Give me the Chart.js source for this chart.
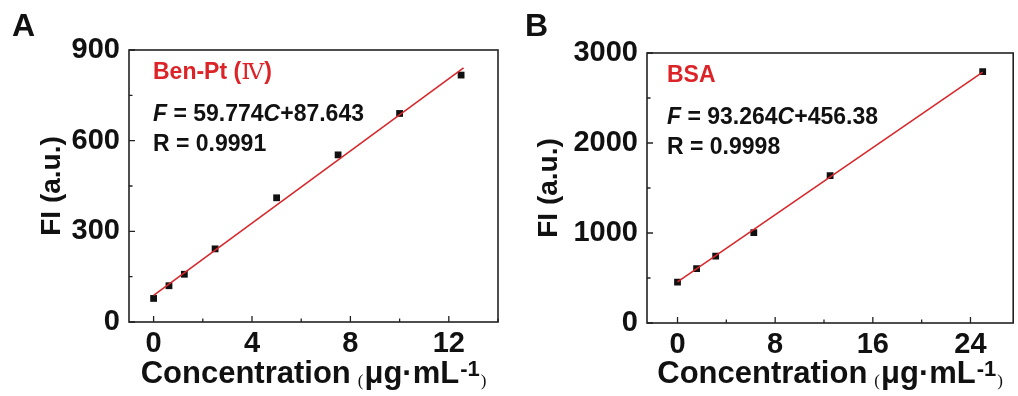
<!DOCTYPE html>
<html>
<head>
<meta charset="utf-8">
<script src="https://cdn.jsdelivr.net/npm/chart.js@4.4.0/dist/chart.umd.min.js"></script>
<style>
  body { margin: 0; background: #fff; }
  .panel { position: absolute; top: 0; width: 509px; height: 396px; }
</style>
</head>
<body>
<div class="panel" style="left:0"><canvas id="chartA" width="509" height="396"></canvas></div>
<div class="panel" style="left:509px"><canvas id="chartB" width="509" height="396"></canvas></div>
<script>
// panel A - Ben-Pt(IV)
const concA = [0, 0.625, 1.25, 2.5, 5, 7.5, 10, 12.5];
const fiA = [78, 120, 158, 242, 411, 553, 690, 817];
const fitXA = [0, 12.6];
const fitYA = [88, 841];
const xTicksA = [0, 4, 8, 12];
const yTicksA = [0, 300, 600, 900];

// panel B - BSA
const concB = [0, 1.5625, 3.125, 6.25, 12.5, 25];
const fiB = [455, 603, 744, 1003, 1637, 2792];
const fitXB = [0, 25];
const fitYB = [456, 2788];
const xTicksB = [0, 8, 16, 24];
const yTicksB = [0, 1000, 2000, 3000];

const SANS = '"Liberation Sans", Arial, sans-serif';
const SERIF = '"Liberation Serif", "DejaVu Serif", serif';
const RED = '#dc2327';
const LINE_RED = '#d8282c';

function toPoints(xs, ys) {
  return xs.map((x, i) => ({ x: x, y: ys[i] }));
}

// draw a row of text pieces with different fonts
function drawRuns(ctx, runs, x, y, center) {
  let total = 0;
  runs.forEach(r => { ctx.font = r.f; total += ctx.measureText(r.t).width + (r.gap || 0); });
  let cx = center ? x - total / 2 : x;
  runs.forEach(r => {
    ctx.font = r.f;
    ctx.fillStyle = r.c || '#111';
    ctx.fillText(r.t, cx, y + (r.dy || 0));
    cx += ctx.measureText(r.t).width + (r.gap || 0);
  });
}

function minorValues(major, min, max) {
  const step = major[1] - major[0];
  const out = [];
  for (let v = major[0] - step / 2; v <= max; v += step) {
    if (v >= min) out.push(v);
  }
  return out;
}

const framePlugin = {
  id: 'frame',
  beforeDatasetsDraw(chart) {
    const { ctx, chartArea: a, scales: { x, y } } = chart;
    ctx.save();
    ctx.strokeStyle = '#222';
    ctx.lineWidth = 1.6;
    ctx.strokeRect(a.left, a.top, a.right - a.left, a.bottom - a.top);
    ctx.lineWidth = 1.3;
    ctx.beginPath();
    const xt = chart.options.plugins.frame.xTicks;
    const yt = chart.options.plugins.frame.yTicks;
    xt.forEach(v => { const p = x.getPixelForValue(v); ctx.moveTo(p, a.bottom); ctx.lineTo(p, a.bottom - 6); });
    minorValues(xt, x.min, x.max).forEach(v => { const p = x.getPixelForValue(v); ctx.moveTo(p, a.bottom); ctx.lineTo(p, a.bottom - 3.5); });
    yt.forEach(v => { const p = y.getPixelForValue(v); ctx.moveTo(a.left, p); ctx.lineTo(a.left + 6, p); });
    minorValues(yt, y.min, y.max).forEach(v => { const p = y.getPixelForValue(v); ctx.moveTo(a.left, p); ctx.lineTo(a.left + 3.5, p); });
    ctx.stroke();
    ctx.restore();
  },
  afterDraw(chart) {
    const { ctx, chartArea: a } = chart;
    const o = chart.options.plugins.frame;
    ctx.save();
    ctx.textBaseline = 'alphabetic';
    // panel letter
    ctx.font = 'bold 32px ' + SANS;
    ctx.fillStyle = '#111';
    ctx.fillText(o.letter, o.letterX, 36);
    // x axis title
    const big = 'bold 31px ' + SANS;
    drawRuns(ctx, [
      { t: 'Concentration', f: big, gap: 7 },
      { t: '(', f: '17px ' + SERIF, dy: 3, gap: 1 },
      { t: 'μg·mL', f: big, gap: 1 },
      { t: '-1', f: 'bold 22px ' + SANS, dy: -7, gap: 1 },
      { t: ')', f: '17px ' + SERIF, dy: 3 }
    ], (a.left + a.right) / 2, 383, true);
    // annotations
    ctx.textBaseline = 'middle';
    const f23 = 'bold 23px ' + SANS;
    const i23 = 'italic bold 23px ' + SANS;
    const tx = a.left + o.textDx;
    drawRuns(ctx, o.label, tx, a.top + 23, false);
    drawRuns(ctx, [
      { t: 'F', f: i23 },
      { t: ' = ' + o.slope, f: f23 },
      { t: 'C', f: i23 },
      { t: '+' + o.intercept, f: f23 }
    ], tx, a.top + 65, false);
    drawRuns(ctx, [{ t: 'R = ' + o.r, f: f23 }], tx, a.top + 95, false);
    ctx.restore();
  }
};

function makeChart(id, p) {
  return new Chart(document.getElementById(id), {
    type: 'scatter',
    data: {
      datasets: [
        {
          type: 'line',
          data: toPoints(p.fitX, p.fitY),
          borderColor: LINE_RED,
          borderWidth: 1.6,
          pointRadius: 0,
          order: 0
        },
        {
          data: toPoints(p.conc, p.fi),
          pointStyle: 'rect',
          pointRadius: 4.8,
          backgroundColor: '#111',
          borderColor: '#111',
          borderWidth: 0,
          order: 1
        }
      ]
    },
    options: {
      responsive: false,
      animation: false,
      devicePixelRatio: 1,
      layout: { padding: { top: p.top, right: p.right, bottom: 0, left: 0 } },
      plugins: {
        legend: { display: false },
        tooltip: { enabled: false },
        frame: {
          letter: p.letter, letterX: p.letterX,
          xTicks: p.xTicks, yTicks: p.yTicks,
          label: p.label, slope: p.slope, intercept: p.intercept, r: p.r,
          textDx: p.textDx
        }
      },
      scales: {
        x: {
          type: 'linear',
          min: p.xMin, max: p.xMax,
          grid: { display: false, drawTicks: false },
          border: { display: false },
          afterBuildTicks: s => { s.ticks = p.xTicks.map(v => ({ value: v })); },
          afterFit: s => { s.height = 396 - p.bottom; },
          ticks: { color: '#111', padding: 5, maxRotation: 0, callback: v => String(v), font: { family: SANS, size: 29, weight: 'bold' } }
        },
        y: {
          type: 'linear',
          min: p.yMin, max: p.yMax,
          grid: { display: false, drawTicks: false },
          border: { display: false },
          afterBuildTicks: s => { s.ticks = p.yTicks.map(v => ({ value: v })); },
          afterFit: s => { s.width = p.left; },
          ticks: { color: '#111', padding: 9, callback: v => String(v), font: { family: SANS, size: 29, weight: 'bold' } },
          title: {
            display: true,
            text: 'FI (a.u.)',
            color: '#111',
            padding: { top: p.titleTop, bottom: 0 },
            font: { family: SANS, size: 28, weight: 'bold' }
          }
        }
      }
    },
    plugins: [framePlugin]
  });
}

makeChart('chartA', {
  conc: concA, fi: fiA, fitX: fitXA, fitY: fitYA,
  xTicks: xTicksA, yTicks: yTicksA,
  xMin: -1, xMax: 14, yMin: 0, yMax: 900,
  top: 50, right: 11, bottom: 322, left: 129, titleTop: 35,
  letter: 'A', letterX: 12,
  textDx: 24,
  label: [
    { t: 'Ben-Pt (', f: 'bold 23px ' + SANS, c: RED },
    { t: 'Ⅳ', f: '23px ' + SERIF, c: RED },
    { t: ')', f: 'bold 23px ' + SANS, c: RED }
  ],
  slope: '59.774', intercept: '87.643', r: '0.9991'
});

makeChart('chartB', {
  conc: concB, fi: fiB, fitX: fitXB, fitY: fitYB,
  xTicks: xTicksB, yTicks: yTicksB,
  xMin: -2.5, xMax: 27.5, yMin: 0, yMax: 3000,
  top: 53, right: 2, bottom: 323, left: 138, titleTop: 23,
  letter: 'B', letterX: 16,
  textDx: 20,
  label: [{ t: 'BSA', f: 'bold 23px ' + SANS, c: RED }],
  slope: '93.264', intercept: '456.38', r: '0.9998'
});
</script>
</body>
</html>
